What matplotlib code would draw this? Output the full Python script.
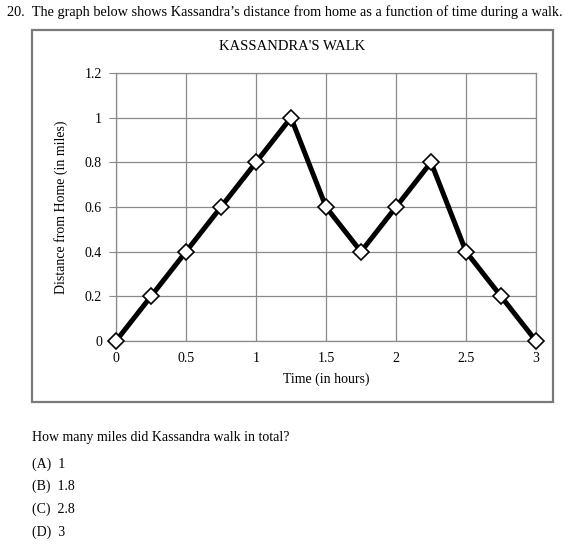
import matplotlib.pyplot as plt
from matplotlib.patches import Rectangle

# data
time_hours = [0, 0.25, 0.5, 0.75, 1.0, 1.25, 1.5, 1.75, 2.0, 2.25, 2.5, 2.75, 3.0]
distance_miles = [0, 0.2, 0.4, 0.6, 0.8, 1.0, 0.6, 0.4, 0.6, 0.8, 0.4, 0.2, 0]
x_ticks = [0, 0.5, 1, 1.5, 2, 2.5, 3]
x_tick_labels = ['0', '0.5', '1', '1.5', '2', '2.5', '3']
y_ticks = [0, 0.2, 0.4, 0.6, 0.8, 1.0, 1.2]
y_tick_labels = ['0', '0.2', '0.4', '0.6', '0.8', '1', '1.2']

question = "20.  The graph below shows Kassandra\u2019s distance from home as a function of time during a walk."
prompt = "How many miles did Kassandra walk in total?"
choices = ["(A)  1", "(B)  1.8", "(C)  2.8", "(D)  3"]

plt.rcParams['font.family'] = ['Liberation Serif', 'DejaVu Serif']
GRID = '#8a8a8a'

fig = plt.figure(figsize=(5.76, 5.48), dpi=100)

# outer frame around the chart
fig.patches.append(Rectangle((32 / 576, 1 - 402 / 548), (553 - 32) / 576, (402 - 30) / 548,
                             transform=fig.transFigure, fill=False,
                             edgecolor='#7a7a7a', linewidth=1.6))

ax = fig.add_axes([116 / 576, 1 - 341 / 548, 420 / 576, 268 / 548])
ax.plot(time_hours, distance_miles, color='black', linewidth=3.6,
        marker='D', markersize=8, markerfacecolor='white',
        markeredgecolor='black', markeredgewidth=1.2, zorder=3, clip_on=False)

ax.set_xlim(0, 3)
ax.set_ylim(0, 1.2)
ax.set_xticks(x_ticks)
ax.set_xticklabels(x_tick_labels)
ax.set_yticks(y_ticks)
ax.set_yticklabels(y_tick_labels)
ax.grid(True, color=GRID, linewidth=0.9)
ax.set_axisbelow(True)
for s in ax.spines.values():
    s.set_color(GRID)
    s.set_linewidth(0.9)
ax.tick_params(axis='y', length=5, color=GRID, labelsize=10, pad=5)
ax.tick_params(axis='x', length=0, labelsize=10, pad=8)

ax.set_xlabel("Time (in hours)", fontsize=10, labelpad=5)
ax.set_ylabel("Distance from Home (in miles)", fontsize=10, labelpad=12)

# chart title is centred on the outer frame, not the plot area
fig.text(292 / 576, 1 - 47 / 548, "KASSANDRA'S WALK", fontsize=10.5, ha='center', va='center')

fig.text(7 / 576, 1 - 12 / 548, question, fontsize=10.3, va='center', ha='left')
fig.text(32 / 576, 1 - 438 / 548, prompt, fontsize=10, va='center', ha='left')
for i, c in enumerate(choices):
    fig.text(32 / 576, 1 - (464 + 22.7 * i) / 548, c, fontsize=10, va='center', ha='left')

fig.savefig('out.png', dpi=100)
